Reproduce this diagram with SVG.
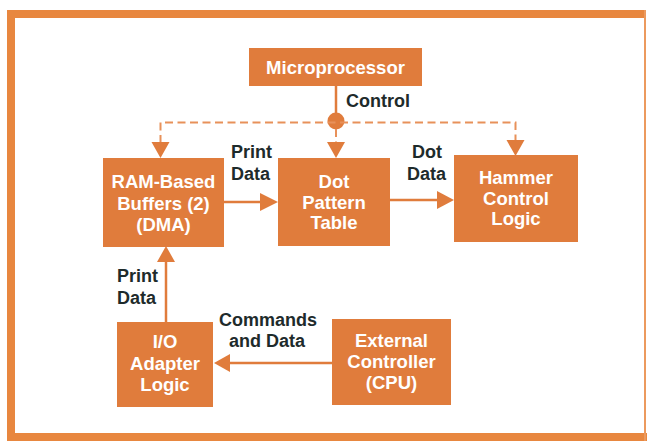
<svg xmlns="http://www.w3.org/2000/svg" width="649" height="444" viewBox="0 0 649 444">
<style>
.box{fill:#E07C3C}
.bt{fill:#fff;font-family:"Liberation Sans",Arial,sans-serif;font-weight:bold;font-size:18.5px;text-anchor:middle}
.lb{fill:#1e2b2b;font-family:"Liberation Sans",Arial,sans-serif;font-weight:bold;font-size:18px}
.ln{stroke:#E07C3C;stroke-width:2.5;fill:none}
.dash{stroke:#E8915A;stroke-width:2;fill:none;stroke-dasharray:8 4.5}
.ah{fill:#E07C3C}
</style>
<rect x="0" y="0" width="649" height="444" fill="#fff"/>
<g id="frame">
<rect x="7" y="10" width="638" height="8" fill="#E8873F"/>
<rect x="7" y="10" width="8" height="431" fill="#E8873F"/>
<rect x="7" y="433" width="640" height="8" fill="#E8873F"/>
<rect x="644" y="10" width="2" height="431" fill="#EC9A5E"/>
</g>
<g id="connectors">
<line class="ln" x1="336" y1="86" x2="336" y2="121"/>
<circle cx="336" cy="121" r="8.5" fill="#E07C3C"/>
<path class="dash" d="M160.5,143 V122.5 H515.5 V143"/>
<line class="dash" x1="336" y1="129" x2="336" y2="143"/>
<polygon class="ah" points="151.5,142 169.5,142 160.5,158"/>
<polygon class="ah" points="327,142 345,142 336,158"/>
<polygon class="ah" points="506.5,140 524.5,140 515.5,156"/>
<line class="ln" x1="223" y1="202" x2="262" y2="202"/>
<polygon class="ah" points="260,193 278,202 260,211"/>
<line class="ln" x1="390" y1="200" x2="439" y2="200"/>
<polygon class="ah" points="437,191 454,200 437,209"/>
<line class="ln" x1="166" y1="322" x2="166" y2="260"/>
<polygon class="ah" points="157,262 166,246 175,262"/>
<line class="ln" x1="332" y1="363" x2="228" y2="363"/>
<polygon class="ah" points="230,354 214,363 230,372"/>
<text class="lb" x="346" y="107">Control</text>
<text class="lb" x="231" y="158">Print</text>
<text class="lb" x="231" y="180">Data</text>
<text class="lb" x="412" y="158">Dot</text>
<text class="lb" x="407" y="180">Data</text>
<text class="lb" x="117" y="282">Print</text>
<text class="lb" x="117" y="304">Data</text>
<text class="lb" x="219" y="326">Commands</text>
<text class="lb" x="229" y="347">and Data</text>
</g>
<g id="microprocessor">
<rect class="box" x="249" y="48" width="173" height="38"/>
<text class="bt" x="335.5" y="74">Microprocessor</text>
</g>
<g id="ram-buffers">
<rect class="box" x="103" y="158" width="121" height="89"/>
<text class="bt" x="163.5" y="188">RAM-Based</text>
<text class="bt" x="163.5" y="210">Buffers (2)</text>
<text class="bt" x="163.5" y="231">(DMA)</text>
</g>
<g id="dot-pattern-table">
<rect class="box" x="278" y="158" width="112" height="88"/>
<text class="bt" x="334" y="188">Dot</text>
<text class="bt" x="334" y="209">Pattern</text>
<text class="bt" x="334" y="229">Table</text>
</g>
<g id="hammer-control-logic">
<rect class="box" x="454" y="155" width="124" height="87"/>
<text class="bt" x="516" y="184">Hammer</text>
<text class="bt" x="516" y="205">Control</text>
<text class="bt" x="516" y="225">Logic</text>
</g>
<g id="io-adapter-logic">
<rect class="box" x="117" y="322" width="96" height="85"/>
<text class="bt" x="165" y="348">I/O</text>
<text class="bt" x="165" y="370">Adapter</text>
<text class="bt" x="165" y="391">Logic</text>
</g>
<g id="external-controller">
<rect class="box" x="332" y="319" width="119" height="86"/>
<text class="bt" x="391.5" y="347">External</text>
<text class="bt" x="391.5" y="368">Controller</text>
<text class="bt" x="391.5" y="389">(CPU)</text>
</g>
</svg>
